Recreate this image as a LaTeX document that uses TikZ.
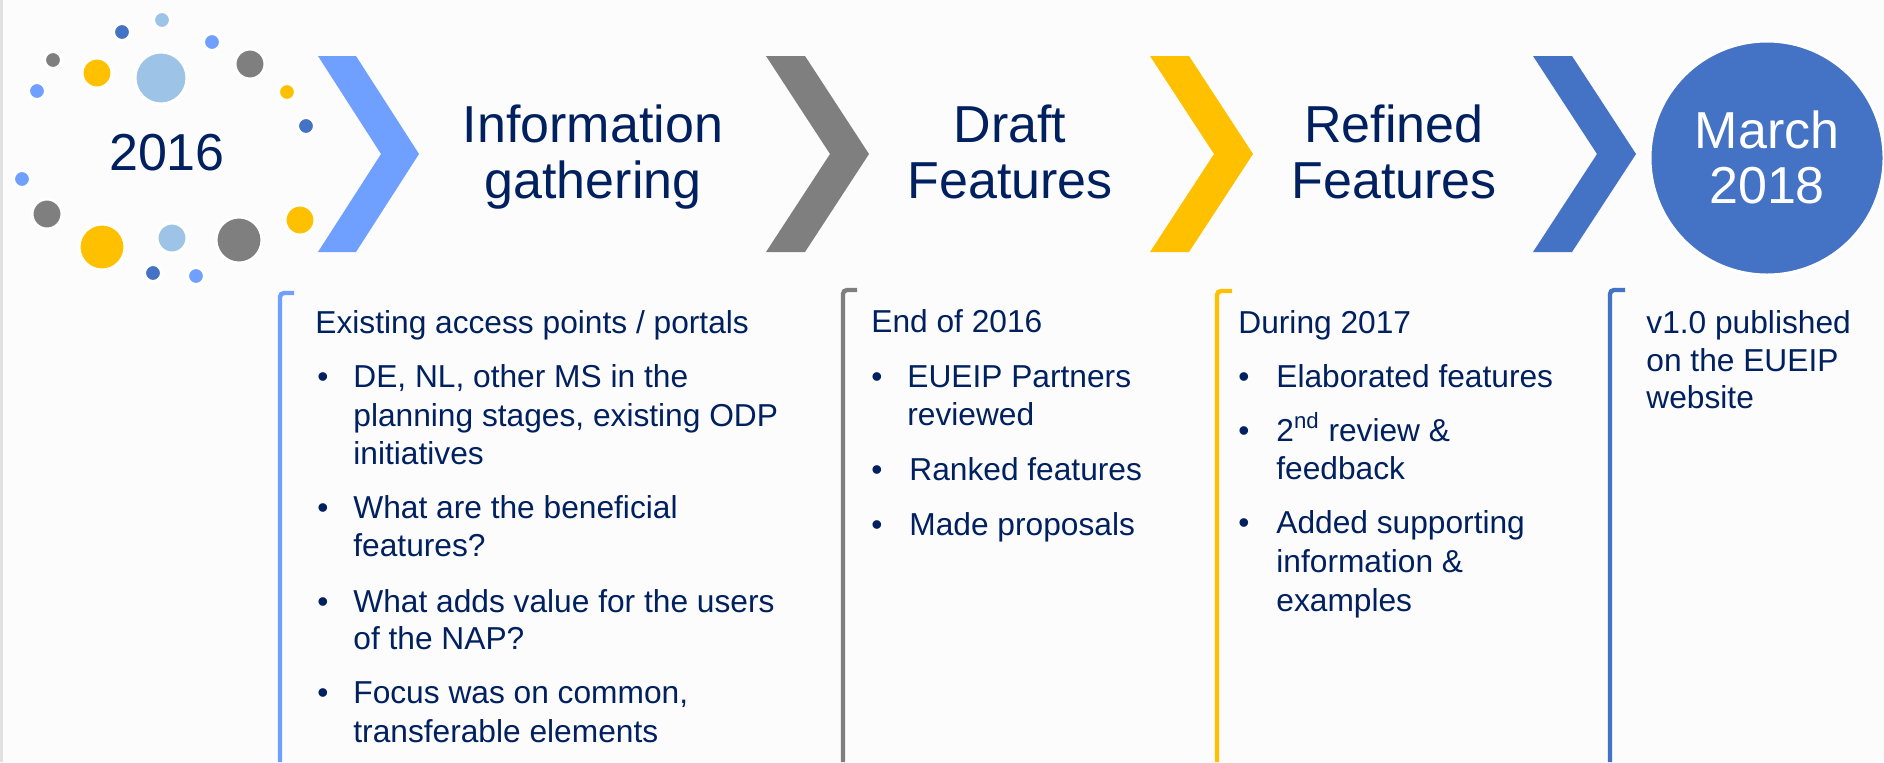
\documentclass[tikz,border=0pt]{standalone}
\usepackage{fontspec}
\setmainfont{Liberation Sans}
\definecolor{navy}{HTML}{002060}
\definecolor{cmid}{HTML}{70A0FF}
\definecolor{cgrey}{HTML}{7F7F7F}
\definecolor{cyel}{HTML}{FFC000}
\definecolor{cblue}{HTML}{4472C4}
\definecolor{clight}{HTML}{9DC3E6}
\definecolor{bg}{HTML}{FCFCFC}
\newcommand{\titlefont}{\fontsize{26}{28}\selectfont}
\newcommand{\bodyfont}{\fontsize{15.85}{19}\selectfont}
\tikzset{
  ttl/.style={text=navy, font=\titlefont, inner sep=0, anchor=base},
  txt/.style={text=navy, font=\bodyfont, inner sep=0, anchor=base west},
  dot/.style={draw=white, line width=1.5},
  bracket/.style={line width=2.2, line cap=butt}
}
\begin{document}
\begin{tikzpicture}[x=0.5pt, y=-0.5pt]
\fill[bg] (0,0) rectangle (1884,762);
\useasboundingbox (0,0) rectangle (1884,762);
\fill[black!12] (0,0) rectangle (3,762);

% circles around 2016
\fill[dot, fill=clight] (162,20) circle (8.5);
\fill[dot, fill=cblue] (122,32) circle (8.5);
\fill[dot, fill=cmid] (212,42) circle (8.5);
\fill[dot, fill=cgrey] (53,60) circle (8.5);
\fill[dot, fill=cyel] (97,73) circle (15);
\fill[dot, fill=clight] (161,78) circle (26);
\fill[dot, fill=cgrey] (250,64) circle (15);
\fill[dot, fill=cyel] (287,92) circle (8.5);
\fill[dot, fill=cmid] (37,91) circle (8.5);
\fill[dot, fill=cblue] (306,126) circle (8.5);
\fill[dot, fill=cmid] (22,179) circle (8.5);
\fill[dot, fill=cgrey] (47,214) circle (15);
\fill[dot, fill=cyel] (102,247) circle (23);
\fill[dot, fill=clight] (172,238) circle (15);
\fill[dot, fill=cgrey] (239,240) circle (23);
\fill[dot, fill=cyel] (300,220) circle (15);
\fill[dot, fill=cblue] (153,273) circle (8.5);
\fill[dot, fill=cmid] (196,276) circle (8.5);

\node[ttl] (y2016) at (167,170) {2016};

% chevrons
\fill[cmid] (318,56) -- (356,56) -- (419,154) -- (356,252) -- (318,252) -- (381,154) -- cycle;
\fill[cgrey] (766,56) -- (805,56) -- (869,154) -- (805,252) -- (766,252) -- (830,154) -- cycle;
\fill[cyel] (1150,56) -- (1189,56) -- (1253,154) -- (1189,252) -- (1150,252) -- (1214,154) -- cycle;
\fill[cblue] (1533,56) -- (1572,56) -- (1636,154) -- (1572,252) -- (1533,252) -- (1597,154) -- cycle;

% titles
\node[ttl] (t1a) at (593,142) {Information};
\node[ttl] (t1b) at (593,198) {gathering};
\node[ttl] (t2a) at (1010,142) {Draft};
\node[ttl] (t2b) at (1010,198) {Features};
\node[ttl] (t3a) at (1394,142) {Refined};
\node[ttl] (t3b) at (1394,198) {Features};

% final circle
\fill[cblue, draw=white, line width=1.5] (1767,158) circle (117);
\node[ttl, text=white] (t4a) at (1767,148) {March};
\node[ttl, text=white] (t4b) at (1767,203) {2018};

% brackets
\draw[bracket, cmid] (294,293) -- (284,293) to[out=180,in=90] (280,297) -- (280,762);
\draw[bracket, cgrey] (857,290) -- (847,290) to[out=180,in=90] (843,294) -- (843,762);
\draw[bracket, cyel] (1232,291) -- (1221,291) to[out=180,in=90] (1217,295) -- (1217,762);
\draw[bracket, cblue] (1625,290) -- (1614,290) to[out=180,in=90] (1610,294) -- (1610,762);

% box 1
\node[txt] (b1h) at (315,333) {Existing access points / portals};
\node[txt] (b1p1) at (317,387) {•};
\node[txt] (b1l1) at (353,387) {DE, NL, other MS in the};
\node[txt] (b1l2) at (353,426) {planning stages, existing ODP};
\node[txt] (b1l3) at (353,464) {initiatives};
\node[txt] (b1p2) at (317,518) {•};
\node[txt] (b1l4) at (353,518) {What are the beneficial};
\node[txt] (b1l5) at (353,556) {features?};
\node[txt] (b1p3) at (317,612) {•};
\node[txt] (b1l6) at (353,612) {What adds value for the users};
\node[txt] (b1l7) at (353,649) {of the NAP?};
\node[txt] (b1p4) at (317,703) {•};
\node[txt] (b1l8) at (353,703) {Focus was on common,};
\node[txt] (b1l9) at (353,742) {transferable elements};

% box 2
\node[txt] (b2h) at (871,332) {End of 2016};
\node[txt] (b2p1) at (871,387) {•};
\node[txt] (b2l1) at (907,387) {EUEIP Partners};
\node[txt] (b2l2) at (907,425) {reviewed};
\node[txt] (b2p2) at (871,480) {•};
\node[txt] (b2l3) at (909,480) {Ranked features};
\node[txt] (b2p3) at (871,535) {•};
\node[txt] (b2l4) at (909,535) {Made proposals};

% box 3
\node[txt] (b3h) at (1238,333) {During 2017};
\node[txt] (b3p1) at (1238,387) {•};
\node[txt] (b3l1) at (1276,387) {Elaborated features};
\node[txt] (b3p2) at (1238,441) {•};
\node[txt] (b3l2) at (1276,441) {2\textsuperscript{nd} review \&};
\node[txt] (b3l3) at (1276,479) {feedback};
\node[txt] (b3p3) at (1238,533) {•};
\node[txt] (b3l4) at (1276,533) {Added supporting};
\node[txt] (b3l5) at (1276,572) {information \&};
\node[txt] (b3l6) at (1276,611) {examples};

% box 4
\node[txt] (b4l1) at (1646,333) {v1.0 published};
\node[txt] (b4l2) at (1646,371) {on the EUEIP};
\node[txt] (b4l3) at (1646,408) {website};
\end{tikzpicture}
\end{document}
